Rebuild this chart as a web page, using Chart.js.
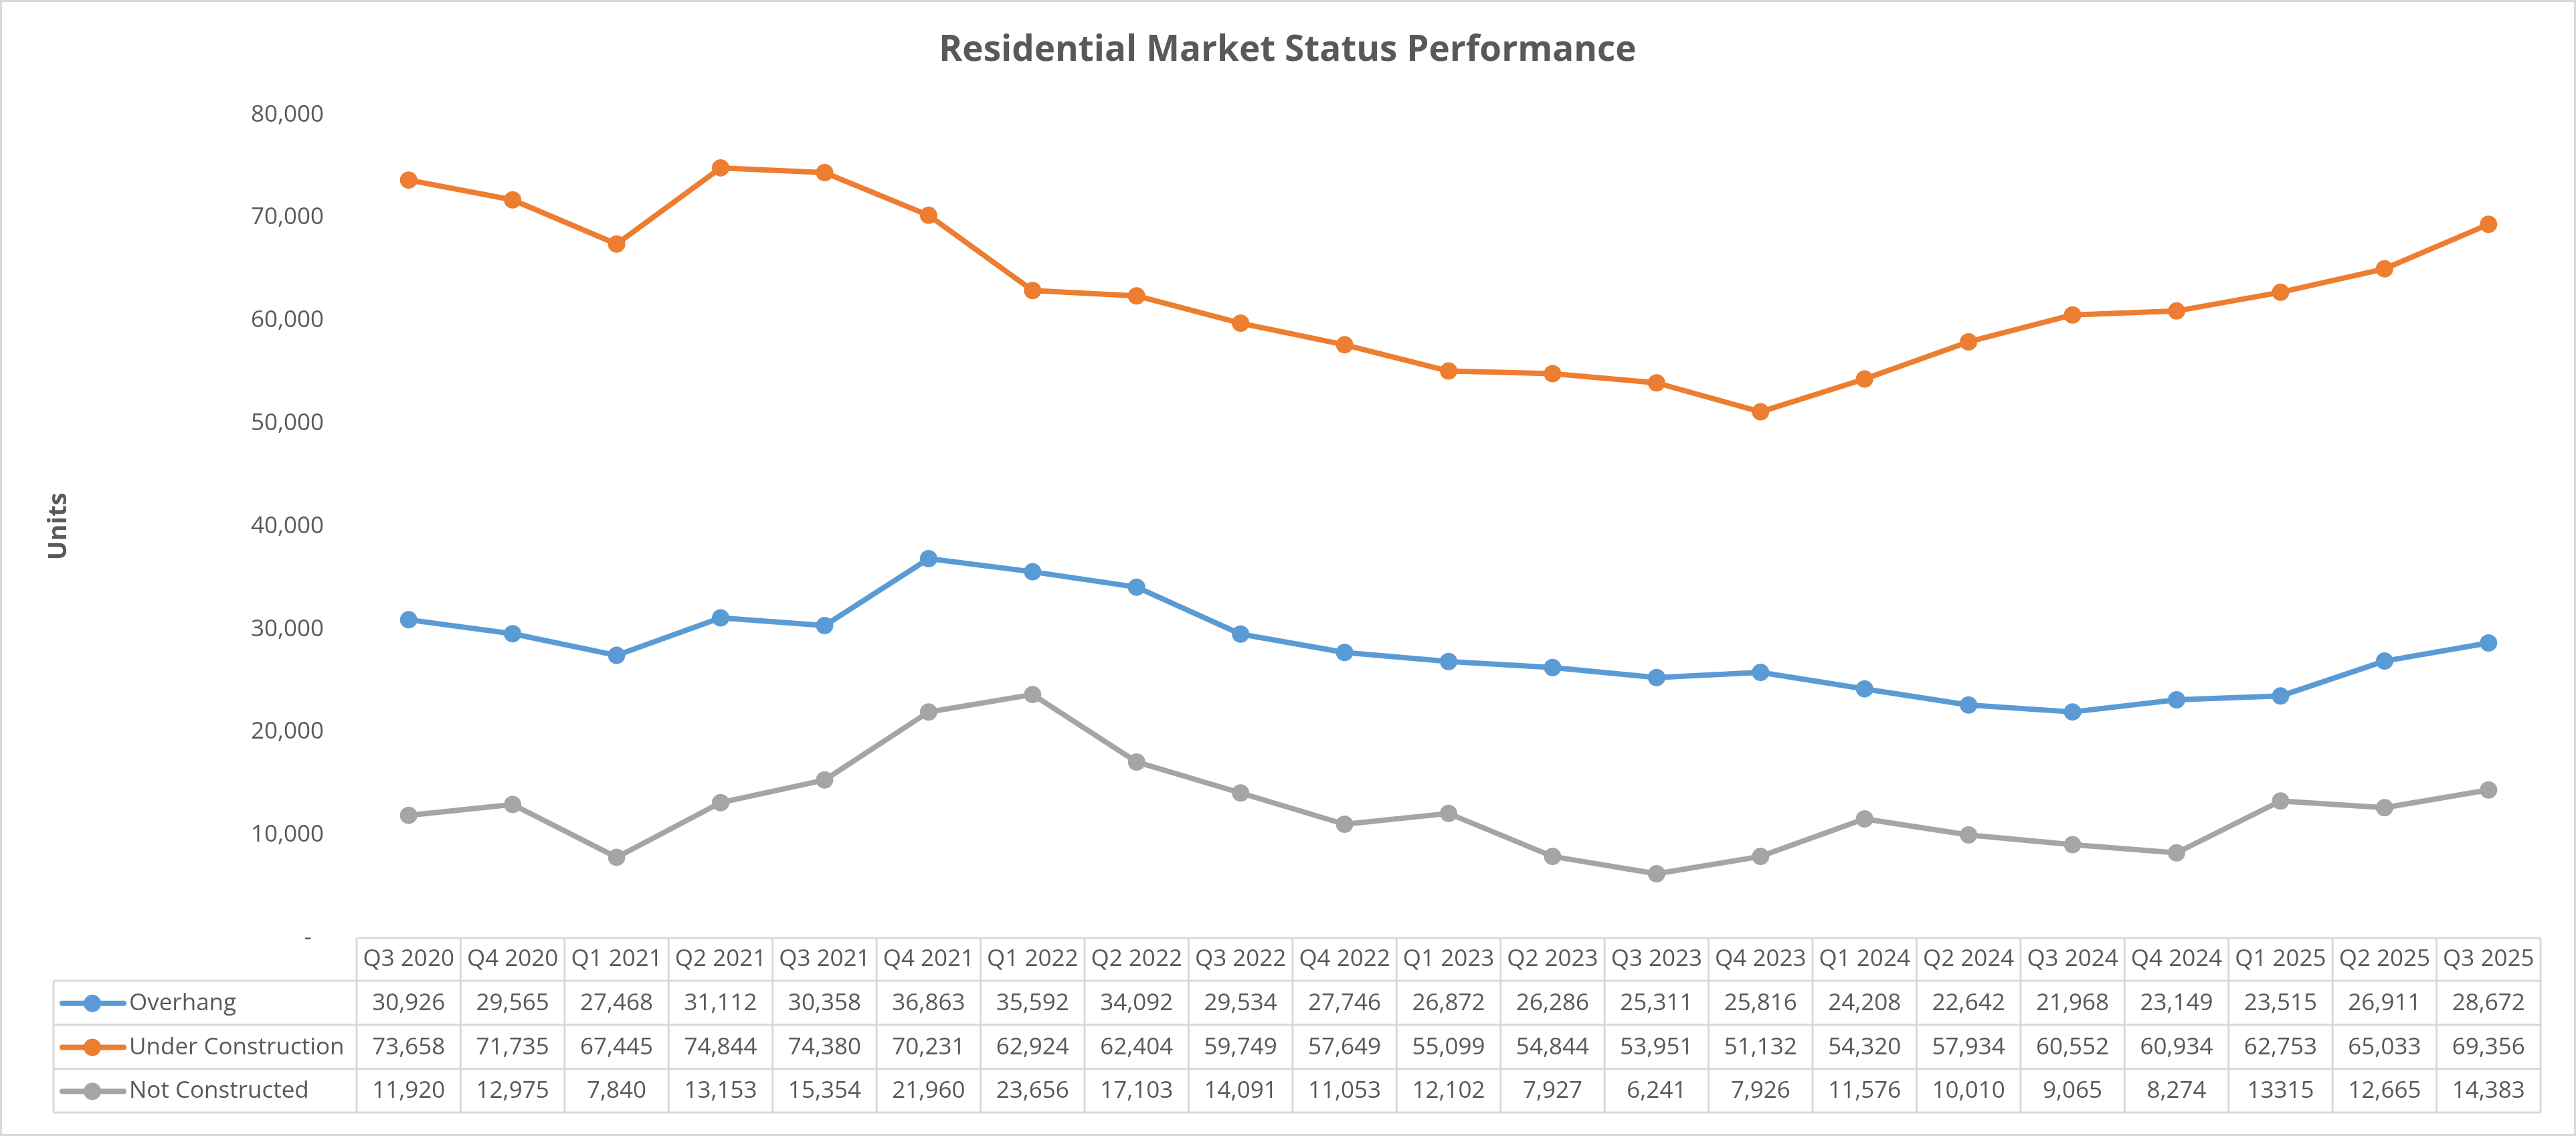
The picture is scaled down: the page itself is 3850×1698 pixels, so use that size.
<!DOCTYPE html>
<html>
<head>
<meta charset="utf-8">
<script src="https://cdn.jsdelivr.net/npm/chart.js@4.4.0/dist/chart.umd.min.js"></script>
<style>
html, body { margin: 0; padding: 0; background: #ffffff; }
canvas { display: block; }
</style>
</head>
<body>
<canvas id="c" width="3850" height="1698" style="width:3850px;height:1698px"></canvas>
<script>
// ---- DATA ----
const quarters = ['Q3 2020','Q4 2020','Q1 2021','Q2 2021','Q3 2021','Q4 2021','Q1 2022','Q2 2022','Q3 2022','Q4 2022','Q1 2023','Q2 2023','Q3 2023','Q4 2023','Q1 2024','Q2 2024','Q3 2024','Q4 2024','Q1 2025','Q2 2025','Q3 2025'];
const overhang = [30926, 29565, 27468, 31112, 30358, 36863, 35592, 34092, 29534, 27746, 26872, 26286, 25311, 25816, 24208, 22642, 21968, 23149, 23515, 26911, 28672];
const underConstruction = [73658, 71735, 67445, 74844, 74380, 70231, 62924, 62404, 59749, 57649, 55099, 54844, 53951, 51132, 54320, 57934, 60552, 60934, 62753, 65033, 69356];
const notConstructed = [11920, 12975, 7840, 13153, 15354, 21960, 23656, 17103, 14091, 11053, 12102, 7927, 6241, 7926, 11576, 10010, 9065, 8274, 13315, 12665, 14383];
const seriesNames = ['Overhang', 'Under Construction', 'Not Constructed'];
const seriesColors = ['#5B9BD5', '#ED7D31', '#A5A5A5'];
const yMin = 0, yMax = 80000, yStep = 10000;
const chartTitle = 'Residential Market Status Performance';
const yAxisTitle = 'Units';
// cells shown in the table without a thousands separator: [seriesIndex, quarterIndex]
const plainFormatCells = [[2, 18]];

// ---- STYLE ----
const TEXT = '#595959';
const GRID = '#D9D9D9';
const FONT = 'Open Sans';
const TXT_SIZE = 35;

function fmtCell(si, qi, v) {
  for (const [s, q] of plainFormatCells) if (s === si && q === qi) return String(v);
  return v.toLocaleString('en-US');
}

const seriesData = [overhang, underConstruction, notConstructed];

const tablePlugin = {
  id: 'dataTable',
  beforeDraw(chart) {
    const ctx = chart.ctx;
    ctx.save();
    ctx.fillStyle = '#ffffff';
    ctx.fillRect(0, 0, chart.width, chart.height);
    ctx.restore();
  },
  afterDraw(chart) {
    const ctx = chart.ctx;
    const ca = chart.chartArea;
    const x = chart.scales.x;
    const n = quarters.length;
    const colW = (ca.right - ca.left) / n;
    const top = ca.bottom;
    const headerH = 64;
    const rowH = 65.7;
    const legendLeft = 80;
    const rows = seriesData.length;
    const tableBottom = top + headerH + rows * rowH;

    ctx.save();
    ctx.strokeStyle = GRID;
    ctx.lineWidth = 3;
    ctx.beginPath();
    ctx.moveTo(ca.left, top); ctx.lineTo(ca.right, top);
    for (let r = 0; r <= rows; r++) {
      const y = top + headerH + r * rowH;
      ctx.moveTo(legendLeft, y); ctx.lineTo(ca.right, y);
    }
    for (let i = 0; i <= n; i++) {
      const xx = x.getPixelForValue(0) - colW / 2 + i * colW;
      ctx.moveTo(xx, top); ctx.lineTo(xx, tableBottom);
    }
    ctx.moveTo(legendLeft, top + headerH); ctx.lineTo(legendLeft, tableBottom);
    ctx.stroke();

    ctx.font = `${TXT_SIZE}px "${FONT}"`;
    ctx.textBaseline = 'middle';
    for (let r = 0; r < rows; r++) {
      const cy = top + headerH + r * rowH + rowH / 2 + 1;
      ctx.strokeStyle = seriesColors[r];
      ctx.lineWidth = 8;
      ctx.lineCap = 'round';
      ctx.beginPath();
      ctx.moveTo(93, cy); ctx.lineTo(185, cy);
      ctx.stroke();
      ctx.fillStyle = seriesColors[r];
      ctx.beginPath();
      ctx.arc(138, cy, 13, 0, Math.PI * 2);
      ctx.fill();
      ctx.fillStyle = TEXT;
      ctx.textAlign = 'left';
      ctx.fillText(seriesNames[r], 193, cy);
      ctx.textAlign = 'center';
      seriesData[r].forEach((v, i) => {
        ctx.fillText(fmtCell(r, i, v), x.getPixelForValue(i), cy);
      });
    }
    ctx.strokeStyle = GRID;
    ctx.lineWidth = 3;
    ctx.strokeRect(1.5, 1.5, chart.width - 3, chart.height - 3);
    ctx.restore();
  }
};

function build() {
  new Chart(document.getElementById('c'), {
    type: 'line',
    data: {
      labels: quarters,
      datasets: seriesData.map((d, i) => ({
        label: seriesNames[i],
        data: d,
        borderColor: seriesColors[i],
        backgroundColor: seriesColors[i],
        borderWidth: 8,
        pointRadius: 13,
        pointBorderWidth: 0,
        pointBackgroundColor: seriesColors[i],
        borderJoinStyle: 'round',
        borderCapStyle: 'round',
        tension: 0,
        fill: false
      }))
    },
    options: {
      responsive: false,
      animation: false,
      devicePixelRatio: 1,
      layout: { padding: { left: 52, right: 53, top: 0, bottom: 232 } },
      plugins: {
        legend: { display: false },
        tooltip: { enabled: false },
        title: {
          display: true,
          text: chartTitle,
          color: TEXT,
          font: { family: FONT, size: 53, weight: 'bold', lineHeight: 1.2 },
          padding: { top: 44, bottom: 64 }
        }
      },
      scales: {
        x: {
          offset: true,
          grid: { display: false, drawTicks: false },
          border: { display: false },
          ticks: { color: TEXT, font: { family: FONT, size: TXT_SIZE }, padding: 11, maxRotation: 0, autoSkip: false }
        },
        y: {
          min: yMin,
          max: yMax,
          grid: { display: false, drawTicks: false },
          border: { display: false },
          ticks: {
            stepSize: yStep,
            color: TEXT,
            font: { family: FONT, size: TXT_SIZE },
            padding: 49,
            callback: v => v === 0 ? '-  ' : Number(v).toLocaleString('en-US')
          },
          title: {
            display: true,
            text: yAxisTitle,
            color: TEXT,
            font: { family: FONT, size: 38, weight: 'bold' },
            padding: { top: 13, bottom: 0 }
          },
          afterFit(scale) { scale.width = 533 - 52; }
        }
      }
    },
    plugins: [tablePlugin]
  });
}

if (document.fonts && document.fonts.load) {
  Promise.all([
    document.fonts.load(`${TXT_SIZE}px "${FONT}"`),
    document.fonts.load(`bold 53px "${FONT}"`)
  ]).then(build, build);
} else {
  build();
}
</script>
</body>
</html>
